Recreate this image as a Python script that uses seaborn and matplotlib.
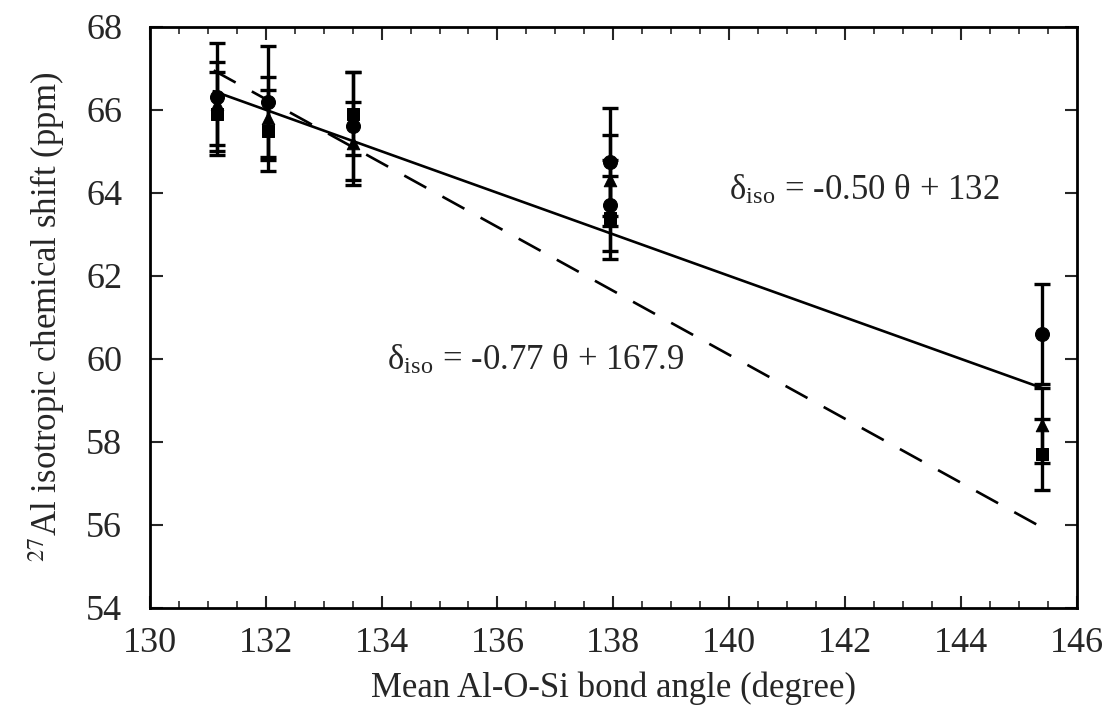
import matplotlib
matplotlib.use("Agg")
import matplotlib.pyplot as plt
import seaborn as sns
import pandas as pd
from matplotlib.ticker import MultipleLocator

# ---- data ----
angle_circle = [131.15, 132.03, 133.51, 137.94, 137.94, 145.40]
shift_circle = [66.30, 66.20, 65.60, 64.75, 63.70, 60.60]
err_circle = [1.30, 1.33, 1.30, 1.30, 1.10, 1.20]

angle_tri = [131.15, 132.03, 133.51, 137.94, 145.40]
shift_tri = [66.15, 65.80, 65.20, 64.30, 58.40]
err_tri = [1.00, 1.00, 1.00, 1.10, 0.90]

angle_sq = [131.15, 132.03, 133.51, 137.94, 145.40]
shift_sq = [65.90, 65.50, 65.90, 63.40, 57.70]
err_sq = [1.00, 0.98, 1.00, 1.00, 0.85]

fit_x = [131.1, 145.4]
fit_solid_y = [66.45, 59.30]   # delta = -0.50 theta + 132
fit_dash_y = [66.95, 55.94]    # delta = -0.77 theta + 167.9

x_ticks = [130, 132, 134, 136, 138, 140, 142, 144, 146]
y_ticks = [54, 56, 58, 60, 62, 64, 66, 68]

label_solid = r"δ$_{\mathregular{iso}}$ = -0.50 θ + 132"
label_dash = r"δ$_{\mathregular{iso}}$ = -0.77 θ + 167.9"

# ---- style ----
sns.set_style("ticks")
plt.rcParams["font.family"] = ["Liberation Serif", "DejaVu Serif"]
plt.rcParams["mathtext.fontset"] = "stix"
plt.rcParams["xtick.direction"] = "in"
plt.rcParams["ytick.direction"] = "in"

fig = plt.figure(figsize=(11.11, 7.06), dpi=100)
ax = fig.add_axes([0.135, 0.139, 0.834, 0.823])

df_fit = pd.DataFrame({"x": fit_x + fit_x,
                       "y": fit_solid_y + fit_dash_y,
                       "fit": ["solid"] * 2 + ["dash"] * 2})
sns.lineplot(data=df_fit[df_fit.fit == "solid"], x="x", y="y", color="black",
             lw=1.9, ax=ax, legend=False)
sns.lineplot(data=df_fit[df_fit.fit == "dash"], x="x", y="y", color="black",
             lw=1.9, ax=ax, legend=False, dashes=False)
ax.lines[-1].set_dashes((9.5, 7))

for xs, ys, es, mk, ms in [(angle_circle, shift_circle, err_circle, "o", 10),
                           (angle_tri, shift_tri, err_tri, "^", 9),
                           (angle_sq, shift_sq, err_sq, "s", 9)]:
    ax.errorbar(xs, ys, yerr=es, fmt="none", ecolor="black", elinewidth=2.4,
                capsize=6, capthick=2.4, zorder=3)
    sns.scatterplot(x=xs, y=ys, marker=mk, s=ms ** 2, color="black",
                    edgecolor="black", ax=ax, zorder=4, legend=False)

ax.text(140.0, 63.85, label_solid, fontsize=25, ha="left", va="baseline")
ax.text(134.1, 59.75, label_dash, fontsize=25, ha="left", va="baseline")

ax.set_xlim(130, 146)
ax.set_ylim(54, 68)
ax.set_xticks(x_ticks)
ax.set_yticks(y_ticks)
ax.xaxis.set_minor_locator(MultipleLocator(0.5))
ax.tick_params(axis="both", which="major", labelsize=26, length=9, width=1.5,
               top=True, right=True)
ax.tick_params(axis="x", which="major", pad=14)
ax.tick_params(axis="y", which="major", pad=20)
ax.tick_params(axis="both", which="minor", length=5, width=1.2, top=True, right=True)
ax.set_xlabel("Mean Al-O-Si bond angle (degree)", fontsize=25, labelpad=8)
ax.set_ylabel(r"$^{27}$Al isotropic chemical shift (ppm)", fontsize=25, labelpad=14)
for s in ax.spines.values():
    s.set_linewidth(2)
    s.set_color("black")

fig.savefig("out.png", dpi=100)
